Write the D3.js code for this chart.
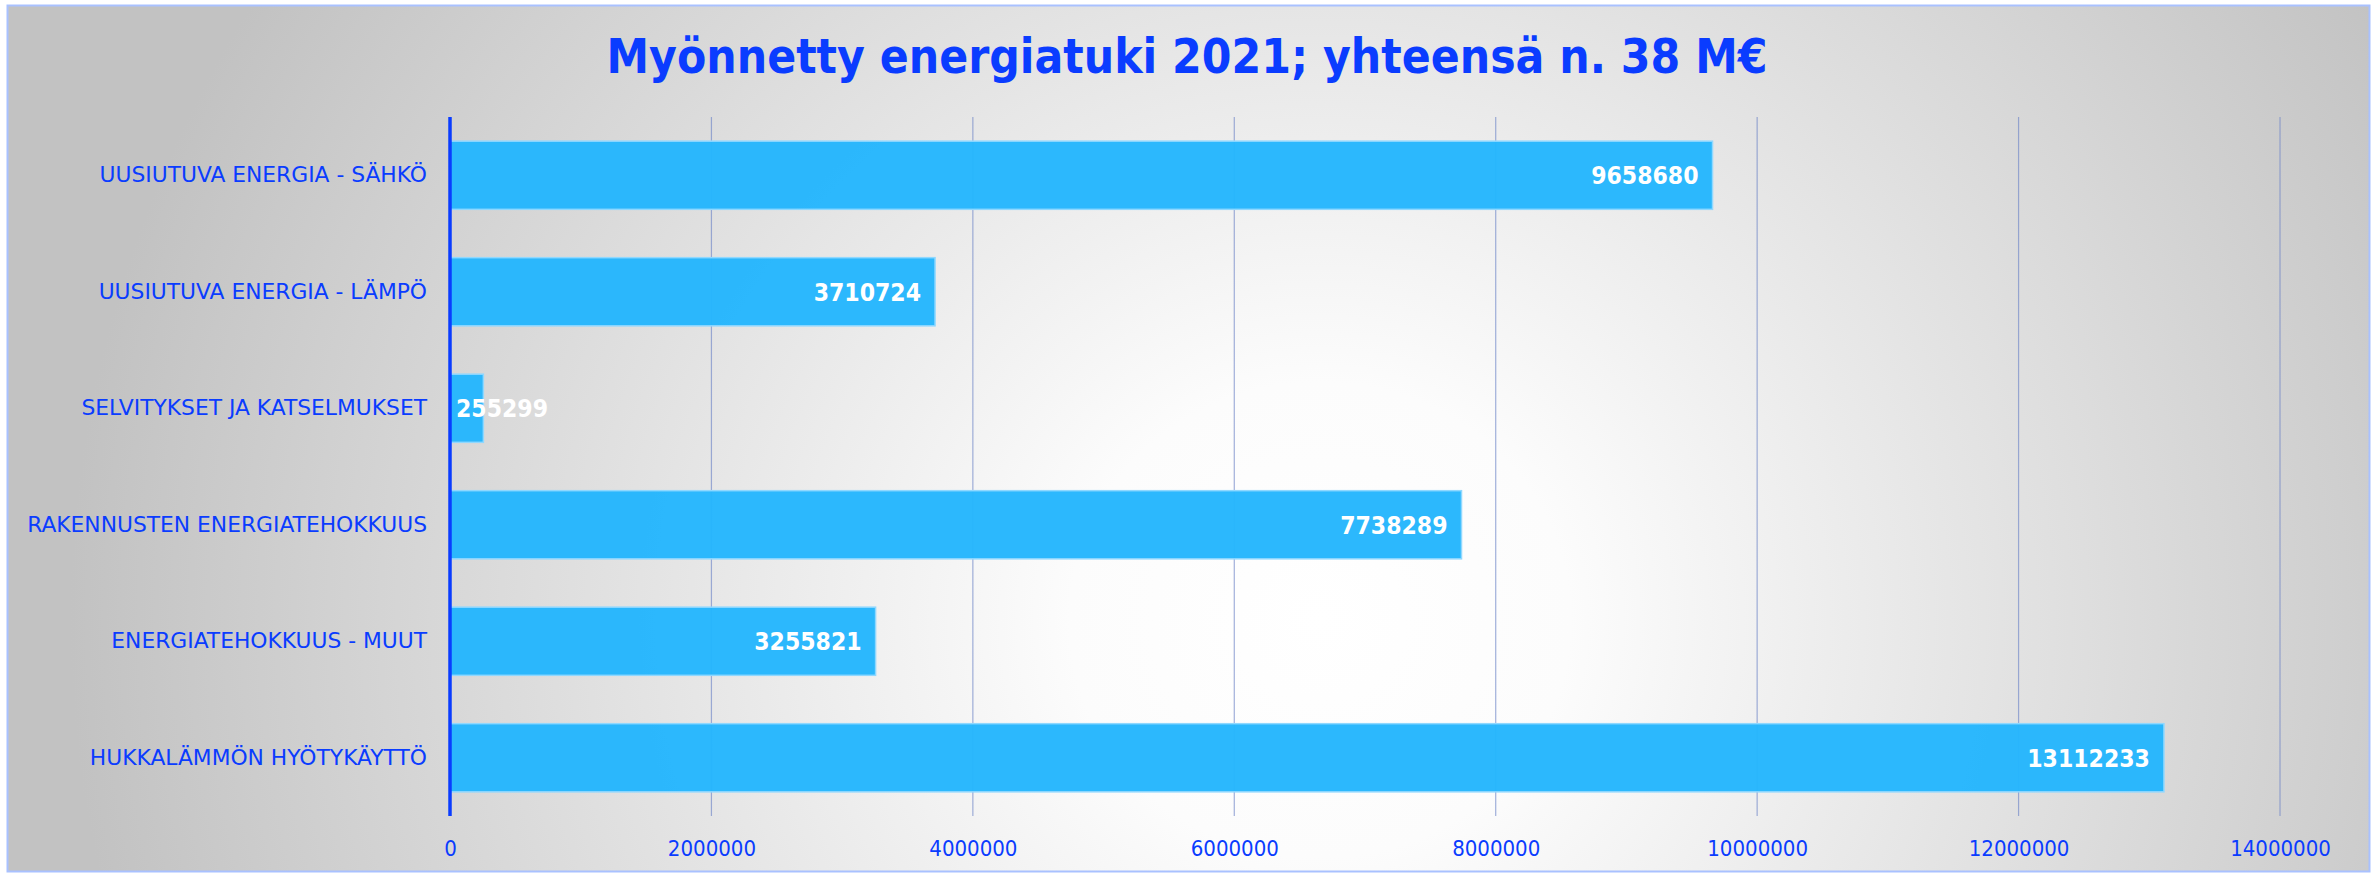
<!DOCTYPE html>
<html>
<head>
<meta charset="utf-8">
<script src="https://cdn.jsdelivr.net/npm/d3@7"></script>
<style>
  html, body { margin: 0; padding: 0; background: #fff; }
  svg { display: block; }
  text { font-family: "DejaVu Sans Condensed", "DejaVu Sans", sans-serif; }
</style>
</head>
<body>
<div id="chart"></div>
<script>
// ── Data ──────────────────────────────────────────────────────────────────────
const categories = [
  'UUSIUTUVA ENERGIA - SÄHKÖ',
  'UUSIUTUVA ENERGIA - LÄMPÖ',
  'SELVITYKSET JA KATSELMUKSET',
  'RAKENNUSTEN ENERGIATEHOKKUUS',
  'ENERGIATEHOKKUUS - MUUT',
  'HUKKALÄMMÖN HYÖTYKÄYTTÖ',
];
const values = [9658680, 3710724, 255299, 7738289, 3255821, 13112233];
const xTicks = [0, 2000000, 4000000, 6000000, 8000000, 10000000, 12000000, 14000000];
const title = 'Myönnetty energiatuki 2021; yhteensä n. 38 M€';

// ── Layout ────────────────────────────────────────────────────────────────────
const W = 2377, H = 875;
const M = { top: 117, right: 97, bottom: 59, left: 450 };
const iw = W - M.left - M.right;
const ih = H - M.top - M.bottom;

const BLUE = '#0a3cff';
const BAR  = '#25b6fd';

const svg = d3.select('#chart').append('svg').attr('width', W).attr('height', H);

// ── Background (radial grey → white) ─────────────────────────────────────────
const defs = svg.append('defs');
const grad = defs.append('radialGradient').attr('id', 'bg')
  .attr('gradientUnits', 'userSpaceOnUse')
  .attr('cx', 1320).attr('cy', 620).attr('r', 1250)
  .attr('gradientTransform', 'translate(1320,620) scale(1,0.95) translate(-1320,-620)');
grad.append('stop').attr('offset', 0).attr('stop-color', '#ffffff');
grad.append('stop').attr('offset', 0.2).attr('stop-color', '#fcfcfc');
grad.append('stop').attr('offset', 1).attr('stop-color', '#c2c2c2');

svg.append('rect')
  .attr('x', 7.5).attr('y', 5.5).attr('width', 2362).attr('height', 866)
  .attr('fill', 'url(#bg)').attr('stroke', '#a9c1ff').attr('stroke-width', 2);

// ── Title ─────────────────────────────────────────────────────────────────────
svg.append('text')
  .attr('x', 1187).attr('y', 73)
  .attr('text-anchor', 'middle')
  .attr('font-size', 47.5).attr('font-weight', 'bold')
  .attr('fill', BLUE)
  .text(title);

const g = svg.append('g').attr('transform', `translate(${M.left},${M.top})`);

// ── Scales ────────────────────────────────────────────────────────────────────
const x = d3.scaleLinear().domain([0, 14000000]).range([0, iw]);
const y = d3.scaleBand().domain(categories).range([0, ih]).paddingInner(0.415).paddingOuter(0.2075);

// ── Grid ──────────────────────────────────────────────────────────────────────
g.selectAll('.grid').data(xTicks.slice(1)).join('line')
  .attr('class', 'grid')
  .attr('x1', d => x(d)).attr('x2', d => x(d))
  .attr('y1', 0).attr('y2', ih)
  .attr('stroke', '#6f86c8').attr('stroke-opacity', 0.65).attr('stroke-width', 1.2);

// ── Bars ──────────────────────────────────────────────────────────────────────
const rows = categories.map((c, i) => ({ c, v: values[i] }));

g.selectAll('.bar').data(rows).join('rect')
  .attr('class', 'bar')
  .attr('x', x(0)).attr('y', d => y(d.c))
  .attr('width', d => x(d.v) - x(0)).attr('height', y.bandwidth())
  .attr('fill', BAR).attr('fill-opacity', 0.97)
  .attr('stroke', '#8fd8ff').attr('stroke-width', 1.5);

// ── Value labels (inside end; spill over when the bar is too short) ──────────
g.selectAll('.val').data(rows).join('text')
  .attr('class', 'val')
  .attr('y', d => y(d.c) + y.bandwidth() / 2)
  .attr('dy', '0.36em')
  .attr('font-size', 24.5).attr('font-weight', 'bold')
  .attr('fill', '#fff')
  .text(d => d.v)
  .each(function (d) {
    const tw = this.getComputedTextLength();
    const bw = x(d.v) - x(0);
    if (tw + 20 > bw) d3.select(this).attr('x', x(0) + 6).attr('text-anchor', 'start');
    else d3.select(this).attr('x', x(d.v) - 14).attr('text-anchor', 'end');
  });

// ── Axes ──────────────────────────────────────────────────────────────────────
g.append('line')
  .attr('x1', x(0)).attr('x2', x(0)).attr('y1', 0).attr('y2', ih)
  .attr('stroke', '#0a3cff').attr('stroke-width', 3.5);

g.append('g').attr('transform', `translate(-23,0)`)
  .call(d3.axisLeft(y).tickSize(0).tickPadding(0))
  .call(a => a.select('.domain').remove())
  .call(a => a.selectAll('text').attr('fill', BLUE).attr('font-size', 21.8)
    .style('font-family', '"DejaVu Sans", sans-serif'));

g.append('g').attr('transform', `translate(0,${ih})`)
  .call(d3.axisBottom(x).tickValues(xTicks).tickSize(0).tickPadding(24).tickFormat(d3.format('d')))
  .call(a => a.select('.domain').remove())
  .call(a => a.selectAll('text').attr('fill', BLUE).attr('font-size', 22)
    .style('font-family', '"DejaVu Sans Condensed", "DejaVu Sans", sans-serif'));
</script>
</body>
</html>
